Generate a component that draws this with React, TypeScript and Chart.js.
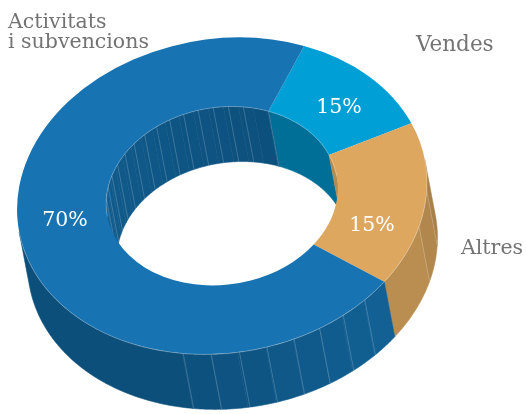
import React, { useEffect, useRef } from "react";
import { Chart, registerables } from "chart.js";

Chart.register(...registerables);

const categories = ["Vendes", "Altres", "Activitats i subvencions"];
// Slice shares as drawn in the picture (the printed labels below are rounded differently)
const sliceShares = [12.2, 16.7, 71.1];
const printedLabels = ["15%", "15%", "70%"];
const sliceColors = ["#009fd6", "#dea760", "#1773b1"];

const FONT = '"DejaVu Serif"';
const TILT = (-9 * Math.PI) / 180;
const CENTER = { x: 222, y: 196 };
const AXES = { a: 206, b: 157 };
const DEPTH = { x: 10.5, y: 55 };
const STARTDEG = 30.5;

type RGB = [number, number, number];
const OUTER_RAMP: [RGB, RGB][] = [
  [[0, 111, 151], [0, 111, 151]],
  [[186, 142, 81], [168, 128, 72]],
  [[18, 96, 148], [12, 79, 123]],
];
const INNER_RAMP: [RGB, RGB][] = [
  [[0, 111, 151], [0, 111, 151]],
  [[181, 140, 80], [181, 140, 80]],
  [[18, 96, 146], [12, 79, 124]],
];
const OUTER_SEAMS = [99.6, 112.8, 142.7, 150.6, 158.4, 166.3, 174.2, 182, 189.9, 197.8];
const INNER_SEAMS = [17.5, 10, 2.5, -5, -12.5, -20, -27.5, -35, -42.5, -50, -57.5, -65, -72.5, -80].map((d) => d + 360);

const mix = (c: [RGB, RGB], t: number) => {
  const k = Math.max(0, Math.min(1, t));
  return `rgb(${c[0].map((v, i) => Math.round(v + (c[1][i] - v) * k)).join(",")})`;
};

const App = () => {
  const ref = useRef<HTMLCanvasElement>(null);
  useEffect(() => {
    if (!ref.current) return;
    const project = (arc: any, r: number, rad: number) => {
      const k = r / arc.outerRadius;
      const px = Math.cos(rad) * k * AXES.a;
      const py = Math.sin(rad) * k * AXES.b;
      const c = Math.cos(TILT), s = Math.sin(TILT);
      return { x: CENTER.x + px * c - py * s, y: CENTER.y + px * s + py * c };
    };
    const toDeg = (rad: number) => (rad * 180) / Math.PI + 90;
    const toRad = (deg: number) => ((deg - 90) * Math.PI) / 180;
    const rims: any[][] = [];

    const walls = {
      id: "walls",
      beforeDatasetsDraw(chart: any) {
        const ctx = chart.ctx;
        const arcs = chart.getDatasetMeta(0).data;
        rims.length = 0;
        ctx.save();
        ctx.lineJoin = "round";
        const wall = (arc: any, index: number, inner: boolean) => {
          const r = inner ? arc.innerRadius : arc.outerRadius;
          const d0 = toDeg(arc.startAngle);
          const d1 = toDeg(arc.endAngle);
          const ramp = inner ? INNER_RAMP[index] : OUTER_RAMP[index];
          const sign = inner ? -1 : 1;
          const step = 0.5;
          let run: any[] = [];
          let runColor = "";
          let rim: any[] = [];
          const flush = () => {
            if (run.length > 1) {
              ctx.fillStyle = ctx.strokeStyle = runColor;
              ctx.lineWidth = 0.6;
              ctx.beginPath();
              run.forEach((p, i) => (i ? ctx.lineTo(p.x, p.y) : ctx.moveTo(p.x, p.y)));
              [...run].reverse().forEach((p) => ctx.lineTo(p.x + DEPTH.x, p.y + DEPTH.y));
              ctx.closePath();
              ctx.fill();
              ctx.stroke();
            }
            run = [];
          };
          for (let d = d0; d < d1; d += step) {
            const e = Math.min(d + step, d1);
            const p = project(arc, r, toRad(d));
            const q = project(arc, r, toRad(e));
            const nx = q.y - p.y;
            const ny = -(q.x - p.x);
            if ((nx * DEPTH.x + ny * DEPTH.y) * sign <= 0) {
              flush();
              if (rim.length) rims.push(rim);
              rim = [];
              continue;
            }
            let t = 0;
            if (inner) t = index === 2 ? (Math.floor((d - 240) / 7.5) * 7.5) / 150 : 0;
            else if (index === 2) t = (Math.floor((d - 134.8) / 7.875) * 7.875) / 63;
            else if (index === 1) t = d < 99.6 ? 1 : d < 112.8 ? 0.5 : 0;
            const color = mix(ramp, t);
            if (color !== runColor) {
              flush();
              runColor = color;
            }
            if (!run.length) run.push(p);
            run.push(q);
            if (!rim.length) rim.push(p);
            rim.push(q);
          }
          flush();
          if (rim.length) rims.push(rim);
        };
        arcs.forEach((arc: any, i: number) => wall(arc, i, true));
        arcs.forEach((arc: any, i: number) => wall(arc, i, false));

        // seams between wall facets
        ctx.strokeStyle = "rgba(255,255,255,0.28)";
        ctx.lineWidth = 0.7;
        const seam = (arc: any, r: number, deg: number, sign: number) => {
          const rad = toRad(deg);
          const p = project(arc, r, rad);
          const q = project(arc, r, rad + 0.01);
          const n = (q.y - p.y) * DEPTH.x - (q.x - p.x) * DEPTH.y;
          if (n * sign <= 0) return;
          ctx.beginPath();
          ctx.moveTo(p.x, p.y);
          ctx.lineTo(p.x + DEPTH.x, p.y + DEPTH.y);
          ctx.stroke();
        };
        const main = arcs[2];
        OUTER_SEAMS.forEach((d) => seam(main, main.outerRadius, d, 1));
        INNER_SEAMS.forEach((d) => seam(main, main.innerRadius, d, -1));
        seam(main, main.innerRadius, STARTDEG + 360, -1);
        ctx.restore();

        // the flat top face is drawn by the doughnut itself, through this transform
        const a = arcs[0];
        ctx.save();
        ctx.translate(CENTER.x, CENTER.y);
        ctx.rotate(TILT);
        ctx.scale(AXES.a / a.outerRadius, AXES.b / a.outerRadius);
        ctx.translate(-a.x, -a.y);
      },
      afterDatasetsDraw(chart: any) {
        const ctx = chart.ctx;
        ctx.restore();
        ctx.save();
        ctx.strokeStyle = "rgba(255,255,255,0.4)";
        ctx.lineWidth = 0.7;
        rims.forEach((rim) => {
          ctx.beginPath();
          rim.forEach((p, i) => (i ? ctx.lineTo(p.x, p.y) : ctx.moveTo(p.x, p.y)));
          ctx.stroke();
        });
        ctx.fillStyle = "#737373";
        ctx.textBaseline = "alphabetic";
        ctx.font = `20.5px ${FONT}`;
        ctx.fillText("Activitats", 8, 28);
        ctx.fillText("i subvencions", 8, 48);
        ctx.fillText(categories[1], 461, 254);
        ctx.font = `21.5px ${FONT}`;
        ctx.fillText(categories[0], 416, 51);
        ctx.fillStyle = "#ffffff";
        ctx.font = `20.5px ${FONT}`;
        ctx.textAlign = "center";
        ctx.fillText(printedLabels[0], 339, 113);
        ctx.fillText(printedLabels[1], 372, 231);
        ctx.fillText(printedLabels[2], 65, 226);
        ctx.restore();
      },
    };

    const chart = new Chart(ref.current, {
      type: "doughnut",
      data: {
        labels: categories,
        datasets: [
          {
            data: sliceShares,
            backgroundColor: sliceColors,
            borderWidth: 0,
            clip: false,
          } as any,
        ],
      },
      options: {
        responsive: false,
        animation: false,
        rotation: STARTDEG,
        cutout: "56.5%",
        layout: { padding: 0 },
        plugins: { legend: { display: false }, tooltip: { enabled: false } },
      },
      plugins: [walls],
    });
    return () => chart.destroy();
  }, []);
  return (
    <canvas
      ref={ref}
      width={526}
      height={414}
      style={{ position: "absolute", left: 0, top: 0, width: 526, height: 414, display: "block" }}
    />
  );
};

export default App;
